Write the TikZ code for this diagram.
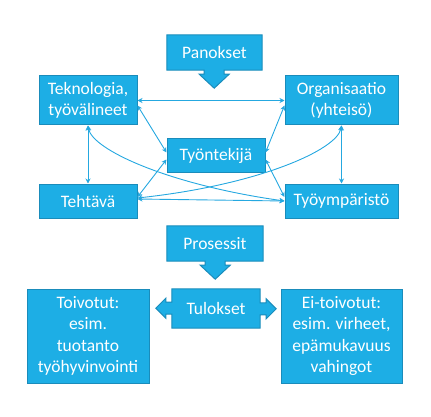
\documentclass[tikz,border=0pt]{standalone}
\usepackage{fontspec}
\setmainfont{Carlito}
\usetikzlibrary{arrows.meta,backgrounds}
\definecolor{boxfill}{HTML}{1DAEE5}
\definecolor{boxline}{HTML}{1A8CBB}
\definecolor{connc}{HTML}{25A8E0}
\begin{document}
\begin{tikzpicture}[x=1pt,y=-1pt,
  box/.style={fill=boxfill,draw=boxline,line width=1pt,text=white,inner sep=0pt,align=center,font=\fontsize{17.5}{21.5}\selectfont},
  lbl/.style={text=white,inner sep=0pt,align=center,font=\fontsize{17.5}{21.5}\selectfont},
  shapebox/.style={fill=boxfill,draw=boxline,line width=1pt},
  conn/.style={draw=connc,line width=0.9pt,{Stealth[length=5pt,width=5pt]}-{Stealth[length=5pt,width=5pt]}}]
\useasboundingbox (0,0) rectangle (431,417);

% boxes
\node[box,minimum width=98pt,minimum height=49pt] (tek) at (88,100.5) {Teknologia,\\työvälineet};
\node[box,minimum width=113pt,minimum height=49pt] (org) at (341.5,100.5) {Organisaatio\\(yhteisö)};
\node[box,minimum width=98pt,minimum height=33pt] (tyo) at (216,155.5) {Työntekijä};
\node[box,minimum width=98pt,minimum height=34pt] (teh) at (88,201) {Tehtävä};
\node[box,minimum width=113pt,minimum height=34pt] (typ) at (341.5,201) {Työympäristö};
\node[box,minimum width=122pt,minimum height=94pt] (toi) at (88,336) {Toivotut:\\esim.\\tuotanto\\työhyvinvointi};
\node[box,minimum width=121pt,minimum height=94pt] (eit) at (341.5,336) {Ei-toivotut:\\esim. virheet,\\epämukavuus\\vahingot};

% arrow-shaped boxes
\node[lbl,minimum width=95pt,minimum height=35pt] (pan) at (214.5,52.5) {Panokset};
\node[lbl,minimum width=96pt,minimum height=35pt] (pro) at (215,243.5) {Prosessit};
\node[lbl,minimum width=88pt,minimum height=39pt] (tul) at (216,308.5) {Tulokset};
\begin{pgfonlayer}{background}
\path[shapebox] (pan.north west) -- (pan.north east) -- (pan.south east)
  -- ++(-38,0) -- ++(0,4) -- ++(5,0) -- ++(-15,14) -- ++(-15,-14) -- ++(5,0) -- ++(0,-4)
  -- (pan.south west) -- cycle;
\path[shapebox] (pro.north west) -- (pro.north east) -- (pro.south east)
  -- ++(-38,0) -- ++(0,4) -- ++(5,0) -- ++(-15,14) -- ++(-15,-14) -- ++(5,0) -- ++(0,-4)
  -- (pro.south west) -- cycle;
\path[shapebox] (tul.north west) -- (tul.north east)
  -- ++(0,14) -- ++(6,0) -- ++(0,-4) -- ++(10,10) -- ++(-10,10) -- ++(0,-4) -- ++(-6,0)
  -- (tul.south east) -- (tul.south west)
  -- ++(0,-14) -- ++(-6,0) -- ++(0,4) -- ++(-10,-10) -- ++(10,-10) -- ++(0,4) -- ++(6,0)
  -- cycle;
\end{pgfonlayer}

% connectors
\draw[conn] (tek.east) -- (org.west);
\draw[conn] (tek.south) -- (teh.north);
\draw[conn] (org.south) -- (typ.north);
\draw[conn] ([yshift=2pt]teh.east) -- (typ.west);
\draw[conn] ([yshift=-5pt]tek.east) -- ([yshift=3pt]tyo.west);
\draw[conn] ([yshift=4pt]teh.east) -- ([yshift=-4pt]tyo.west);
\draw[conn] ([yshift=-5pt]org.west) -- ([yshift=3pt]tyo.east);
\draw[conn] ([yshift=4pt]typ.west) -- ([yshift=-4pt]tyo.east);
\draw[conn] (tek.south) .. controls (92,150) and (170,185) .. (typ.west);
\draw[conn] (org.south) .. controls (337,150) and (258,185) .. ([yshift=3pt]teh.east);
\end{tikzpicture}
\end{document}
